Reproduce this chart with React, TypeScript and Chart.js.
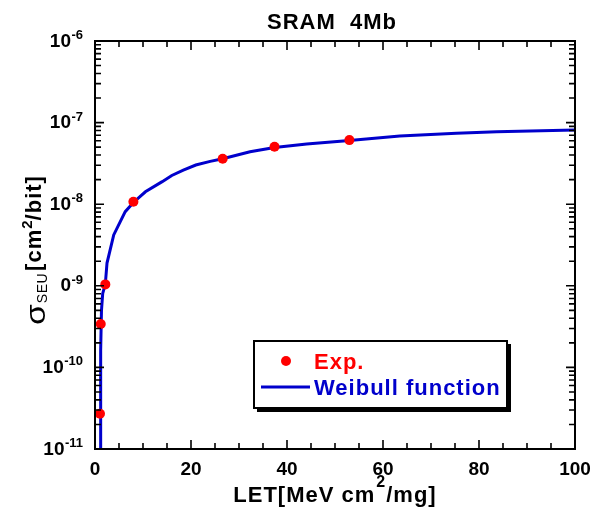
import { useEffect, useRef } from 'react';
import { Chart, registerables } from 'chart.js';

Chart.register(...registerables);

// Measured SEU cross-section vs. LET
const expLET = [1.04, 1.2, 2.15, 8, 26.6, 37.4, 53];
const expSigma = [2.7e-11, 3.4e-10, 1.04e-9, 1.07e-8, 3.6e-8, 5.05e-8, 6.1e-8];

// Weibull fit curve samples
const fitLET = [1.15, 1.18, 1.35, 1.6, 2.15, 2.5, 3.9, 6.3, 8, 10.5, 14, 16, 18.4, 21, 24, 26.6, 32.3, 37.4, 44.1, 53, 63.5, 75.3, 83.7, 100];
const fitSigma = [1e-11, 1.6e-10, 5e-10, 8e-10, 1.05e-9, 1.9e-9, 4.2e-9, 8.1e-9, 1.05e-8, 1.42e-8, 1.89e-8, 2.25e-8, 2.62e-8, 3.02e-8, 3.35e-8, 3.6e-8, 4.4e-8, 4.95e-8, 5.47e-8, 6.05e-8, 6.85e-8, 7.4e-8, 7.74e-8, 8.1e-8];

// Axis ticks
const xMajorTicks = [0, 20, 40, 60, 80, 100];
const xMinorStep = 5;
const yDecades = [-11, -10, -9, -8, -7, -6];

// Texts
const chartTitle = 'SRAM  4Mb';
const xTitleParts = ['LET[MeV cm', '2', '/mg]'];
const yTitleParts = ['\u03C3', 'SEU', '[cm', '2', '/bit]'];
const legendLabels = ['Exp.', 'Weibull function'];

const RED = '#ff0000';
const BLUE = '#0000cc';
const FONT = "'Liberation Sans', Arial, sans-serif";
const bold = (px: number) => `bold ${px}px ${FONT}`;
const normal = (px: number) => `${px}px ${FONT}`;

type Run = { text: string; font: string; dy: number; spacing?: number; color?: string; gap?: number };

function runsWidth(ctx: CanvasRenderingContext2D, runs: Run[]) {
  let w = 0;
  for (const r of runs) {
    ctx.font = r.font;
    (ctx as any).letterSpacing = `${r.spacing ?? 0}px`;
    w += (r.gap ?? 0) + ctx.measureText(r.text).width;
  }
  (ctx as any).letterSpacing = '0px';
  return w;
}

function drawRuns(ctx: CanvasRenderingContext2D, runs: Run[], x: number, y: number) {
  ctx.textAlign = 'left';
  ctx.textBaseline = 'alphabetic';
  for (const r of runs) {
    ctx.font = r.font;
    (ctx as any).letterSpacing = `${r.spacing ?? 0}px`;
    ctx.fillStyle = r.color ?? '#000';
    x += r.gap ?? 0;
    ctx.fillText(r.text, x, y + r.dy);
    x += ctx.measureText(r.text).width;
  }
  (ctx as any).letterSpacing = '0px';
  return x;
}

const framePlugin = {
  id: 'frameAndText',
  afterDraw(chart: any) {
    const { ctx, chartArea: a } = chart;
    const xs = chart.scales.x;
    const ys = chart.scales.y;
    ctx.save();

    // inward ticks on all four sides
    ctx.strokeStyle = '#000';
    ctx.lineWidth = 1.6;
    ctx.beginPath();
    for (let v = 0; v <= 100; v += xMinorStep) {
      const px = xs.getPixelForValue(v);
      const len = xMajorTicks.includes(v) ? 9 : 6;
      ctx.moveTo(px, a.bottom);
      ctx.lineTo(px, a.bottom - len);
      ctx.moveTo(px, a.top);
      ctx.lineTo(px, a.top + len);
    }
    for (const k of yDecades) {
      const maxM = k === yDecades[yDecades.length - 1] ? 1 : 9;
      for (let m = 1; m <= maxM; m++) {
        const py = ys.getPixelForValue(m * Math.pow(10, k));
        const len = m === 1 ? 9 : 6;
        ctx.moveTo(a.left, py);
        ctx.lineTo(a.left + len, py);
        ctx.moveTo(a.right, py);
        ctx.lineTo(a.right - len, py);
      }
    }
    ctx.stroke();

    // frame
    ctx.lineWidth = 2;
    ctx.strokeRect(a.left, a.top, a.right - a.left, a.bottom - a.top);

    // x tick labels
    ctx.fillStyle = '#000';
    ctx.font = bold(19);
    ctx.textAlign = 'center';
    ctx.textBaseline = 'alphabetic';
    for (const v of xMajorTicks) {
      ctx.fillText(String(v), xs.getPixelForValue(v), a.bottom + 25.5);
    }

    // y tick labels: 10 with superscript exponent
    for (const k of yDecades) {
      const py = ys.getPixelForValue(Math.pow(10, k));
      const runs: Run[] = [
        { text: '10', font: bold(19), dy: 0, spacing: 0.3 },
        { text: String(k), font: bold(13), dy: -7.5 },
      ];
      const w = runsWidth(ctx, runs);
      drawRuns(ctx, runs, a.left - 12 - w, py + 5.5);
    }

    // chart title
    const tRuns: Run[] = [{ text: chartTitle, font: bold(22), dy: 0, spacing: 1 }];
    const tw = runsWidth(ctx, tRuns);
    drawRuns(ctx, tRuns, 332 - tw / 2, 29);

    // x axis title
    const xRuns: Run[] = [
      { text: xTitleParts[0], font: bold(22), dy: 0, spacing: 1 },
      { text: xTitleParts[1], font: bold(16), dy: -15, gap: 1 },
      { text: xTitleParts[2], font: bold(22), dy: 0, spacing: 1, gap: 1 },
    ];
    const xw = runsWidth(ctx, xRuns);
    drawRuns(ctx, xRuns, (a.left + a.right) / 2 - xw / 2, 501.5);

    // y axis title (rotated), subscript area blanked behind
    ctx.fillStyle = '#fff';
    ctx.fillRect(24, 268, 37, 59);
    ctx.save();
    ctx.rotate(-Math.PI / 2);
    // local x = -screenY, local y = screenX
    let lx = -325;
    ctx.save();
    ctx.font = normal(27);
    ctx.fillStyle = '#000';
    ctx.textAlign = 'left';
    ctx.textBaseline = 'alphabetic';
    const sw = ctx.measureText(yTitleParts[0]).width;
    ctx.translate(lx, 45);
    ctx.scale(1.25, 1);
    ctx.fillText(yTitleParts[0], 0, 0);
    ctx.restore();
    lx += sw * 1.25 + 1;
    lx = drawRuns(ctx, [{ text: yTitleParts[1], font: normal(14), dy: 0, spacing: 0.5 }], lx, 47);
    lx += 2;
    drawRuns(
      ctx,
      [
        { text: yTitleParts[2], font: bold(22), dy: 0, spacing: 1 },
        { text: yTitleParts[3], font: bold(15), dy: -9 },
        { text: yTitleParts[4], font: bold(22), dy: 0, spacing: 1 },
      ],
      lx,
      40.5,
    );
    ctx.restore();

    // legend box with drop shadow
    const bx = 254, by = 341, bw = 253, bh = 67;
    ctx.fillStyle = '#000';
    ctx.fillRect(bx + 3, by + 3, bw + 1, bh + 1);
    ctx.fillStyle = '#fff';
    ctx.fillRect(bx, by, bw, bh);
    ctx.lineWidth = 2;
    ctx.strokeStyle = '#000';
    ctx.strokeRect(bx, by, bw, bh);

    ctx.fillStyle = RED;
    ctx.beginPath();
    ctx.arc(286, 361, 5, 0, Math.PI * 2);
    ctx.fill();
    ctx.strokeStyle = BLUE;
    ctx.lineWidth = 3;
    ctx.beginPath();
    ctx.moveTo(261, 387);
    ctx.lineTo(310, 387);
    ctx.stroke();

    drawRuns(ctx, [{ text: legendLabels[0], font: bold(22), dy: 0, spacing: 1, color: RED }], 314, 368.5);
    drawRuns(ctx, [{ text: legendLabels[1], font: bold(22), dy: 0, spacing: 1, color: BLUE }], 314, 395);

    ctx.restore();
  },
};

export default function App() {
  const canvasRef = useRef<HTMLCanvasElement | null>(null);

  useEffect(() => {
    const canvas = canvasRef.current;
    if (!canvas) return;
    const chart = new Chart(canvas, {
      type: 'scatter',
      data: {
        datasets: [
          {
            label: legendLabels[0],
            data: expLET.map((x, i) => ({ x, y: expSigma[i] })),
            backgroundColor: RED,
            borderColor: RED,
            borderWidth: 0,
            pointRadius: 5,
            pointHoverRadius: 5,
            showLine: false,
            order: 0,
          },
          {
            label: legendLabels[1],
            data: fitLET.map((x, i) => ({ x, y: fitSigma[i] })),
            borderColor: BLUE,
            backgroundColor: BLUE,
            borderWidth: 3,
            pointRadius: 0,
            showLine: true,
            tension: 0,
            order: 1,
          },
        ],
      },
      options: {
        responsive: false,
        animation: false,
        devicePixelRatio: 1,
        layout: { padding: { left: 95, right: 17, top: 41, bottom: 62 } },
        plugins: {
          legend: { display: false },
          tooltip: { enabled: false },
          title: { display: false },
        },
        scales: {
          x: { type: 'linear', min: 0, max: 100, display: false },
          y: { type: 'logarithmic', min: 1e-11, max: 1e-6, display: false },
        },
      },
      plugins: [framePlugin],
    });
    return () => chart.destroy();
  }, []);

  return (
    <div style={{ position: 'fixed', left: 0, top: 0, width: 592, height: 511, background: '#fff' }}>
      <canvas ref={canvasRef} width={592} height={511} style={{ display: 'block', width: 592, height: 511 }} />
    </div>
  );
}
